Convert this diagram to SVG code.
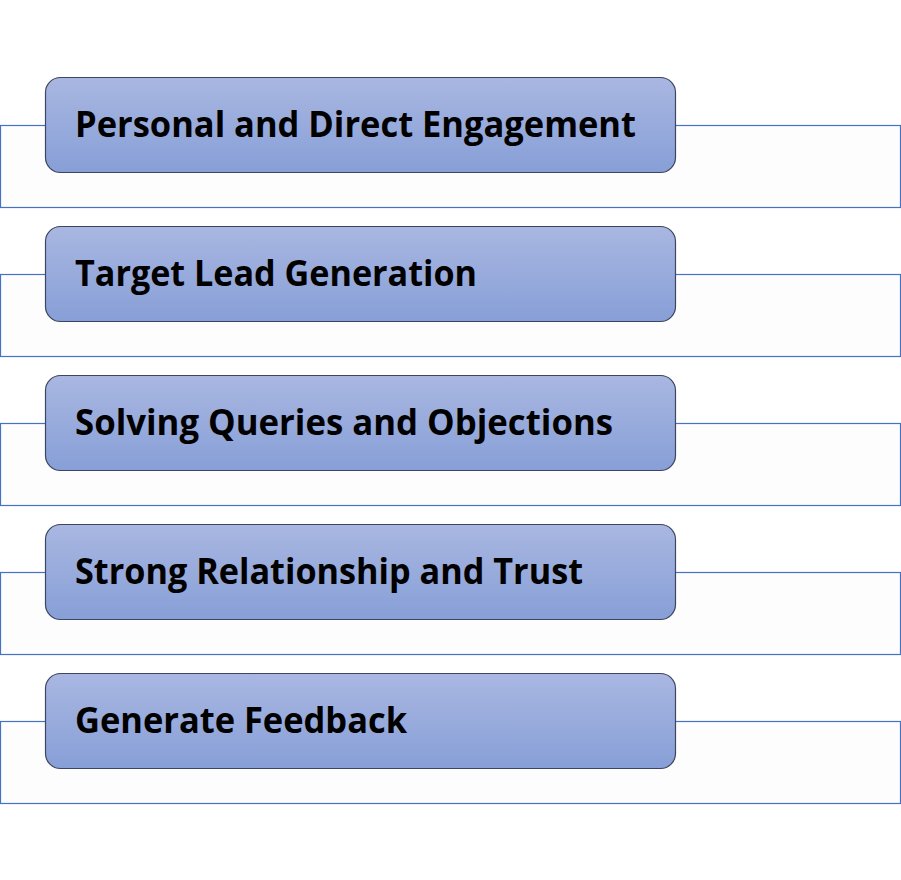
<svg xmlns="http://www.w3.org/2000/svg" width="901" height="880" viewBox="0 0 901 880">
<defs>
<linearGradient id="g" x1="0" y1="0" x2="0" y2="1">
<stop offset="0" stop-color="#a9b7e1"/>
<stop offset="1" stop-color="#879fd7"/>
</linearGradient>
<style>
.bg{fill:#fdfdfd;stroke:#4472c4;stroke-width:1.2}
.box{fill:url(#g);stroke:#3d4560;stroke-width:1.2}
.t{font-family:"Open Sans","Liberation Sans",Arial,sans-serif;font-weight:bold;font-size:35px;fill:#000}
</style>
</defs>
<rect width="901" height="880" fill="#fff"/>
<g id="connectors">
<rect class="bg" x="0.5" y="125.5" width="900" height="82"/>
<rect class="bg" x="0.5" y="274.5" width="900" height="82"/>
<rect class="bg" x="0.5" y="423.5" width="900" height="82"/>
<rect class="bg" x="0.5" y="572.5" width="900" height="82"/>
<rect class="bg" x="0.5" y="721.5" width="900" height="82"/>
</g>
<g id="n1"><rect class="box" x="45.5" y="77.5" width="630" height="95" rx="15"/><text class="t" x="75" y="137" textLength="561" lengthAdjust="spacingAndGlyphs">Personal and Direct Engagement</text></g>
<g id="n2"><rect class="box" x="45.5" y="226.5" width="630" height="95" rx="15"/><text class="t" x="75" y="286" textLength="402" lengthAdjust="spacingAndGlyphs">Target Lead Generation</text></g>
<g id="n3"><rect class="box" x="45.5" y="375.5" width="630" height="95" rx="15"/><text class="t" x="75" y="435" textLength="538" lengthAdjust="spacingAndGlyphs">Solving Queries and Objections</text></g>
<g id="n4"><rect class="box" x="45.5" y="524.5" width="630" height="95" rx="15"/><text class="t" x="75" y="584" textLength="508" lengthAdjust="spacingAndGlyphs">Strong Relationship and Trust</text></g>
<g id="n5"><rect class="box" x="45.5" y="673.5" width="630" height="95" rx="15"/><text class="t" x="75" y="733" textLength="332" lengthAdjust="spacingAndGlyphs">Generate Feedback</text></g>
</svg>
